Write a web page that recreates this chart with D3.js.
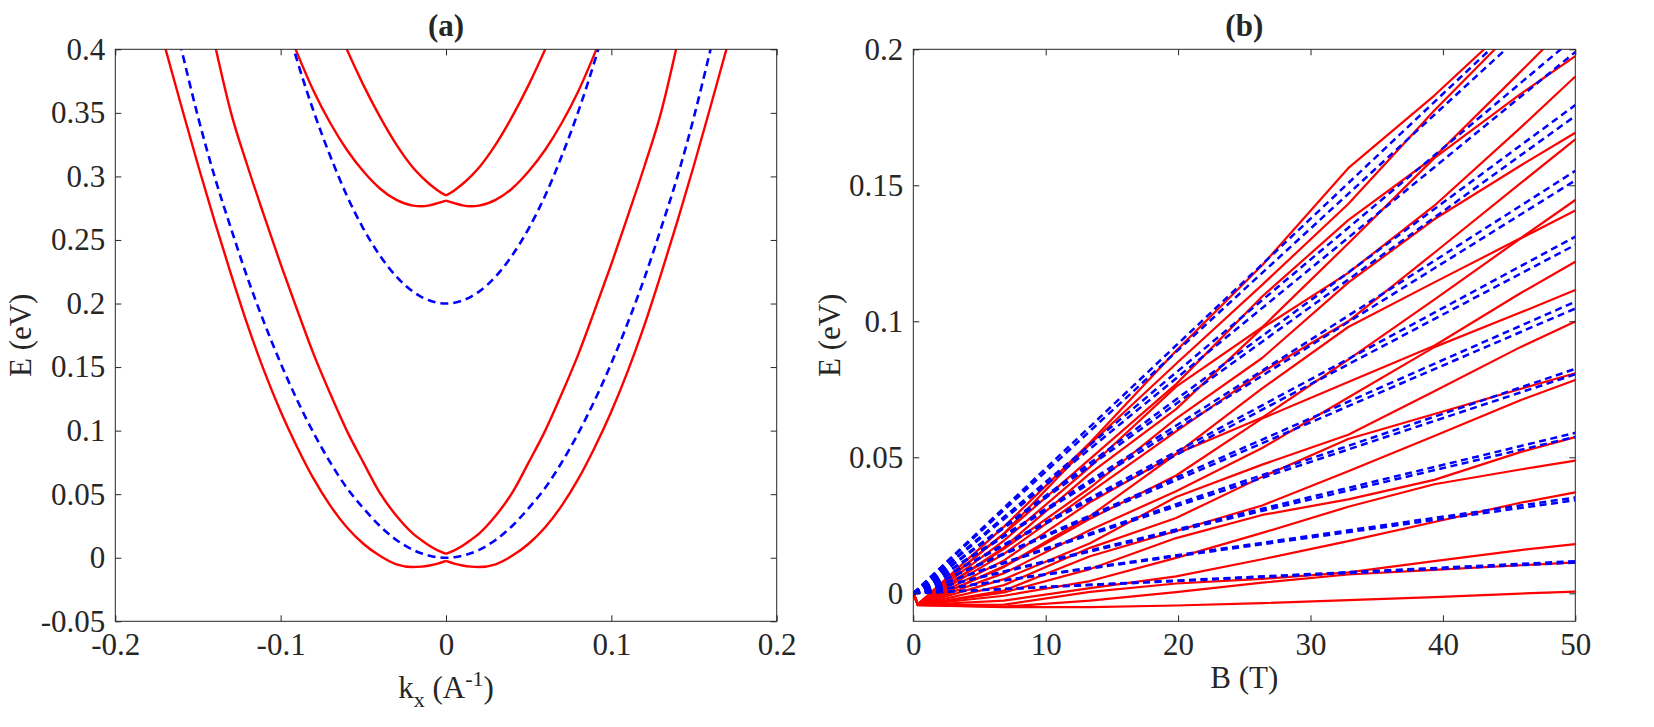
<!DOCTYPE html>
<html>
<head>
<meta charset="utf-8">
<script src="https://cdn.jsdelivr.net/npm/d3@7"></script>
<style>
  body { margin: 0; background: #fff; }
  text { font-family: "Liberation Serif", "DejaVu Serif", serif; fill: #262626; }
</style>
</head>
<body>
<svg id="chart" width="1654" height="727"></svg>
<script>
// ---------- PANEL (a) DATA : E (eV) against kx, read on the kx >= 0 side (bands are symmetric)
var kxPos = [0, 0.005, 0.01, 0.015, 0.02, 0.03, 0.04, 0.05, 0.06, 0.07, 0.08, 0.09, 0.10, 0.11, 0.12, 0.13, 0.14, 0.15, 0.16, 0.17, 0.18];

// red solid, lower pair
var redLowOuter = [-0.0025, -0.0046, -0.0061, -0.0070, -0.0073, -0.0052, 0.0015, 0.011, 0.024, 0.041, 0.062, 0.087, 0.115, 0.147, 0.183, 0.223, 0.265, 0.309, 0.355, 0.402, 0.45];
var redLowInner = [0.003, 0.0058, 0.0095, 0.014, 0.019, 0.033, 0.051, 0.075, 0.100, 0.129, 0.160, 0.195, 0.231, 0.269, 0.308, 0.350, 0.405];
// red solid, upper pair
var redHighOuter = [0.281, 0.279, 0.2772, 0.2765, 0.277, 0.2815, 0.2905, 0.304, 0.321, 0.342, 0.367, 0.397, 0.430];
var redHighInner = [0.285, 0.289, 0.294, 0.300, 0.307, 0.325, 0.347, 0.372, 0.400, 0.430];
// blue dashed
var blueLow = [0, 0.0004, 0.0016, 0.0035, 0.0062, 0.014, 0.025, 0.039, 0.055, 0.075, 0.098, 0.124, 0.153, 0.185, 0.220, 0.259, 0.300, 0.347, 0.400, 0.455];
var blueHigh = [0.2, 0.2006, 0.2024, 0.2053, 0.2094, 0.2212, 0.2378, 0.259, 0.285, 0.316, 0.351, 0.391, 0.436];

var kxTicks = [-0.2, -0.1, 0, 0.1, 0.2];
var eTicksA = [-0.05, 0, 0.05, 0.1, 0.15, 0.2, 0.25, 0.3, 0.35, 0.4];

// ---------- PANEL (b) DATA : E (eV) against B (T)
var bField = [0, 0.35, 6.85, 13.35, 19.85, 26.35, 32.85, 39.35, 45.85, 50];
// red solid levels, lowest first, one row per level, values at bField
var redLevels = [
  [0, -0.0044, -0.0051, -0.0051, -0.0045, -0.0036, -0.0025, -0.0014, -0.0001, 0.0006],
  [0, -0.0044, -0.0049, -0.0027, 0.0004, 0.0039, 0.0069, 0.0086, 0.0103, 0.0114],
  [0, -0.0043, -0.0042, 0.0005, 0.0036, 0.0053, 0.0077, 0.0118, 0.0159, 0.0181],
  [0, -0.0043, -0.0027, 0.0019, 0.0062, 0.0125, 0.0192, 0.0262, 0.0333, 0.0371],
  [0, -0.0043, -0.0009, 0.0045, 0.0130, 0.0222, 0.0318, 0.0401, 0.0455, 0.0488],
  [0, -0.0043, 0.0003, 0.0089, 0.0203, 0.0288, 0.0345, 0.0417, 0.0519, 0.0574],
  [0, -0.0043, 0.0010, 0.0136, 0.0229, 0.0323, 0.0449, 0.0578, 0.0710, 0.0784],
  [0, -0.0043, 0.0030, 0.0167, 0.0277, 0.0428, 0.0567, 0.0659, 0.0751, 0.0809],
  [0, -0.0042, 0.0052, 0.0184, 0.0354, 0.0473, 0.0583, 0.0743, 0.0905, 0.0999],
  [0, -0.0042, 0.0074, 0.0233, 0.0375, 0.0534, 0.0720, 0.0905, 0.1032, 0.1115],
  [0, -0.0042, 0.0097, 0.0274, 0.0433, 0.0643, 0.0777, 0.0910, 0.1103, 0.1219],
  [0, -0.0042, 0.0099, 0.0284, 0.0512, 0.0646, 0.0859, 0.1080, 0.1304, 0.1407],
  [0, -0.0042, 0.0121, 0.0335, 0.0513, 0.0753, 0.0979, 0.1143, 0.1305, 0.1446],
  [0, -0.0041, 0.0145, 0.0371, 0.0595, 0.0813, 0.1000, 0.1252, 0.1507, 0.1669],
  [0, -0.0041, 0.0163, 0.0388, 0.0642, 0.0865, 0.1142, 0.1375, 0.1572, 0.1693],
  [0, -0.0041, 0.0169, 0.0441, 0.0677, 0.0975, 0.1178, 0.1425, 0.1711, 0.1900],
  [0, -0.0041, 0.0194, 0.0465, 0.0760, 0.0978, 0.1286, 0.1600, 0.1835, 0.1975],
  [0, -0.0041, 0.0219, 0.0494, 0.0769, 0.1091, 0.1372, 0.1604, 0.1917, 0.2119],
  [0, -0.0040, 0.0220, 0.0549, 0.0844, 0.1134, 0.1431, 0.1775, 0.2095, 0.2264],
  [0, -0.0040, 0.0245, 0.0554, 0.0892, 0.1206, 0.1563, 0.1830, 0.2124, 0.2348]
];
// blue dashed levels: straight from the origin, value at B = 50 T
var blueB = [0, 50];
var blueAt50 = [0.0113, 0.0118, 0.0342, 0.0352, 0.0575, 0.0590, 0.0805, 0.0825, 0.1047, 0.1072,
                0.1281, 0.1311, 0.1518, 0.1553, 0.1755, 0.1795, 0.1990, 0.2045, 0.2235, 0.2295];

var bTicks = [0, 10, 20, 30, 40, 50];
var eTicksB = [0, 0.05, 0.1, 0.15, 0.2];

// ---------- SETTINGS
var settings = {
  axisColor: '#262626',
  red: '#ff0000',
  blue: '#0000ff',
  tickLen: 6,
  tickFont: 31,
  labelFont: 31,
  titleFont: 31
};

var svg = d3.select('#chart');

// plain number labels with a hyphen minus, like the original
function fmt(d) { return d === 0 ? '0' : String(+d.toFixed(3)); }

// BOX, MIRRORED TICKS, LABELS
function frame(g, x, y, xTicks, yTicks, box) {
  var tl = -settings.tickLen;

  var bottom = g.append('g').attr('transform', 'translate(0,' + box.bottom + ')')
    .call(d3.axisBottom(x).tickValues(xTicks).tickSize(tl).tickSizeOuter(0).tickPadding(12).tickFormat(fmt));
  var top = g.append('g').attr('transform', 'translate(0,' + box.top + ')')
    .call(d3.axisTop(x).tickValues(xTicks).tickSize(tl).tickSizeOuter(0).tickFormat(''));
  var left = g.append('g').attr('transform', 'translate(' + box.left + ',0)')
    .call(d3.axisLeft(y).tickValues(yTicks).tickSize(tl).tickSizeOuter(0).tickPadding(10).tickFormat(fmt));
  var right = g.append('g').attr('transform', 'translate(' + box.right + ',0)')
    .call(d3.axisRight(y).tickValues(yTicks).tickSize(tl).tickSizeOuter(0).tickFormat(''));

  [bottom, top, left, right].forEach(function (a) {
    a.select('.domain').remove();
    a.selectAll('line').attr('stroke', settings.axisColor).attr('stroke-width', 1);
    a.selectAll('text').attr('font-size', settings.tickFont).attr('font-family', null).attr('fill', settings.axisColor);
  });

  g.append('rect')
    .attr('x', box.left).attr('y', box.top)
    .attr('width', box.right - box.left).attr('height', box.bottom - box.top)
    .attr('fill', 'none').attr('stroke', settings.axisColor).attr('stroke-width', 1);
}

function clipFor(id, box) {
  svg.append('defs').append('clipPath').attr('id', id)
    .append('rect')
    .attr('x', box.left).attr('y', box.top)
    .attr('width', box.right - box.left).attr('height', box.bottom - box.top);
}

// ================= PANEL (a)
var boxA = { left: 115.3, right: 776.7, top: 49.3, bottom: 621.3 };
var xA = d3.scaleLinear().domain([-0.2, 0.2]).range([boxA.left, boxA.right]);
var yA = d3.scaleLinear().domain([-0.05, 0.4]).range([boxA.bottom, boxA.top]);
clipFor('clipA', boxA);

var lineA = d3.line().x(function (d) { return xA(d[0]); }).y(function (d) { return yA(d[1]); })
  .curve(d3.curveMonotoneX);

function rightHalf(es) { return es.map(function (e, i) { return [kxPos[i], e]; }); }
function leftHalf(es) { return es.map(function (e, i) { return [-kxPos[i], e]; }).reverse(); }
function whole(es) { return leftHalf(es).concat(rightHalf(es).slice(1)); }

var plotA = svg.append('g').attr('clip-path', 'url(#clipA)');

// red bands, drawn as two halves so the crossing at kx = 0 stays sharp
[redLowOuter, redLowInner, redHighOuter, redHighInner].forEach(function (es) {
  [leftHalf(es), rightHalf(es)].forEach(function (pts) {
    plotA.append('path')
      .attr('d', lineA(pts))
      .attr('fill', 'none')
      .attr('stroke', settings.red)
      .attr('stroke-width', 2.4);
  });
});

// blue dashed bands
[blueLow, blueHigh].forEach(function (es) {
  plotA.append('path')
    .attr('d', lineA(whole(es)))
    .attr('fill', 'none')
    .attr('stroke', settings.blue)
    .attr('stroke-width', 2.6)
    .attr('stroke-dasharray', '8,5');
});

frame(svg.append('g'), xA, yA, kxTicks, eTicksA, boxA);

svg.append('text')
  .attr('x', (boxA.left + boxA.right) / 2).attr('y', 36)
  .attr('text-anchor', 'middle').attr('font-weight', 'bold')
  .attr('font-size', settings.titleFont).text('(a)');

var kxLabel = svg.append('text')
  .attr('x', (boxA.left + boxA.right) / 2).attr('y', 698)
  .attr('text-anchor', 'middle').attr('font-size', settings.labelFont);
kxLabel.append('tspan').text('k');
kxLabel.append('tspan').attr('dy', 9).attr('font-size', 22).text('x');
kxLabel.append('tspan').attr('dy', -9).text(' (A');
kxLabel.append('tspan').attr('dy', -12).attr('font-size', 22).text('-1');
kxLabel.append('tspan').attr('dy', 12).text(')');

svg.append('text')
  .attr('transform', 'translate(31,' + (boxA.top + boxA.bottom) / 2 + ') rotate(-90)')
  .attr('text-anchor', 'middle').attr('font-size', settings.labelFont)
  .text('E (eV)');

// ================= PANEL (b)
var boxB = { left: 913.3, right: 1575.3, top: 49.3, bottom: 621.3 };
var xB = d3.scaleLinear().domain([0, 50]).range([boxB.left, boxB.right]);
var yB = d3.scaleLinear().domain([-0.0103, 0.2]).range([boxB.bottom, boxB.top]);
clipFor('clipB', boxB);

var lineB = d3.line().x(function (d) { return xB(d[0]); }).y(function (d) { return yB(d[1]); });

var plotB = svg.append('g').attr('clip-path', 'url(#clipB)');

// red solid levels
redLevels.forEach(function (row) {
  plotB.append('path')
    .attr('d', lineB(row.map(function (e, i) { return [bField[i], e]; })))
    .attr('fill', 'none')
    .attr('stroke', settings.red)
    .attr('stroke-width', 2.2)
    .attr('stroke-linejoin', 'round');
});

// blue dashed levels
blueAt50.forEach(function (e50) {
  plotB.append('path')
    .attr('d', lineB([[blueB[0], 0], [blueB[1], e50]]))
    .attr('fill', 'none')
    .attr('stroke', settings.blue)
    .attr('stroke-width', 2.5)
    .attr('stroke-dasharray', '7,4.5');
});

frame(svg.append('g'), xB, yB, bTicks, eTicksB, boxB);

svg.append('text')
  .attr('x', (boxB.left + boxB.right) / 2).attr('y', 36)
  .attr('text-anchor', 'middle').attr('font-weight', 'bold')
  .attr('font-size', settings.titleFont).text('(b)');

svg.append('text')
  .attr('x', (boxB.left + boxB.right) / 2).attr('y', 688)
  .attr('text-anchor', 'middle').attr('font-size', settings.labelFont)
  .text('B (T)');

svg.append('text')
  .attr('transform', 'translate(840,' + (boxB.top + boxB.bottom) / 2 + ') rotate(-90)')
  .attr('text-anchor', 'middle').attr('font-size', settings.labelFont)
  .text('E (eV)');
</script>
</body>
</html>
